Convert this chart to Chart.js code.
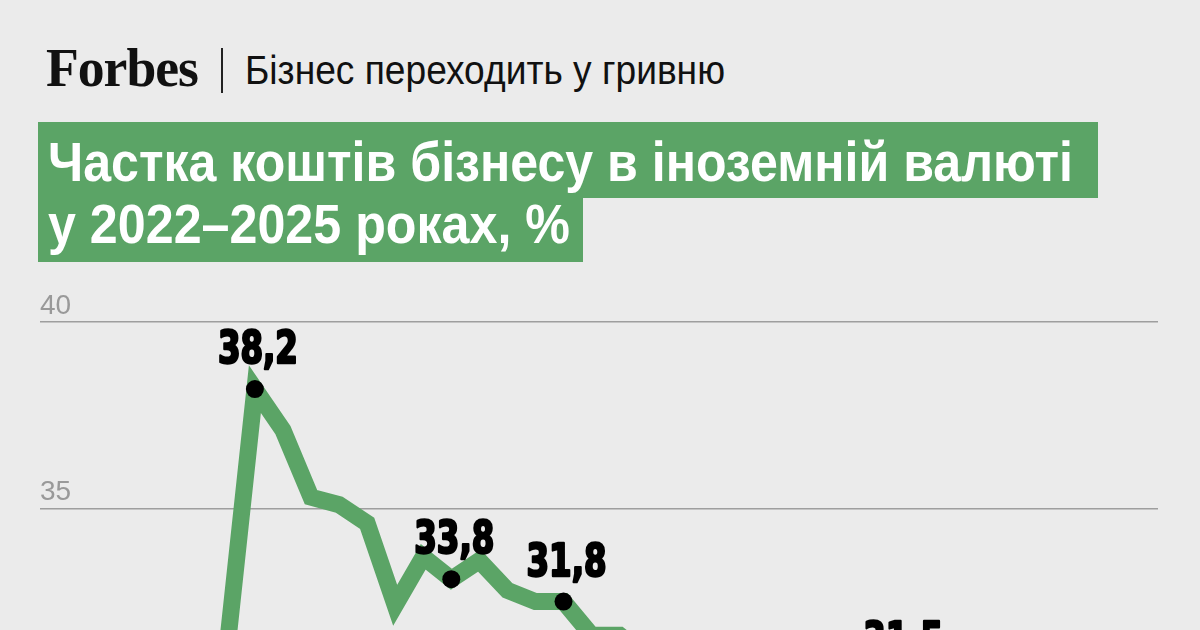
<!DOCTYPE html>
<html lang="uk">
<head>
<meta charset="utf-8">
<title>Частка коштів бізнесу в іноземній валюті</title>
<script src="https://cdn.jsdelivr.net/npm/chart.js@4.4.1/dist/chart.umd.min.js"></script>
<style>
  html, body { margin: 0; padding: 0; }
  body {
    width: 1200px; height: 630px; overflow: hidden; position: relative;
    background: #ebebeb;
  }
  .fit { position: absolute; white-space: nowrap; line-height: 1; transform-origin: 0 0; }
  .logo { left: 46px; top: 37px; font: bold 54px "Liberation Serif", serif; color: #111; letter-spacing: -1px; }
  .sep { position: absolute; left: 221px; top: 48px; width: 2px; height: 45px; background: #222; }
  .kicker { left: 245px; top: 47px; font: 41px "Liberation Sans Narrow", sans-serif; color: #111; }
  .box { position: absolute; background: #5ba466; }
  .title { font: bold 56px "Liberation Sans Narrow", sans-serif; color: #fff; }
  #chart-wrap { position: absolute; left: 0; top: 280px; width: 1200px; height: 618px; }
</style>
</head>
<body>
  <!-- Шапка -->
  <div class="fit logo" data-w="152">Forbes</div>
  <div class="sep"></div>
  <div class="fit kicker" data-w="480">Бізнес переходить у гривню</div>

  <div class="box" style="left:38px; top:122px; width:1060px; height:76px;"></div>
  <div class="box" style="left:38px; top:198px; width:545px; height:64px;"></div>
  <div class="fit title" style="left:48px; top:129px;" data-w="1025">Частка коштів бізнесу в іноземній валюті</div>
  <div class="fit title" style="left:48px; top:191px;" data-w="522">у 2022–2025 роках, %</div>

  <div id="chart-wrap"><canvas id="share-chart"></canvas></div>

<script>
// Місяці (січ 2022 – квіт 2025)
const months = [
  '01.2022', '02.2022', '03.2022', '04.2022', '05.2022', '06.2022', '07.2022', '08.2022',
  '09.2022', '10.2022', '11.2022', '12.2022', '01.2023', '02.2023', '03.2023', '04.2023',
  '05.2023', '06.2023', '07.2023', '08.2023', '09.2023', '10.2023', '11.2023', '12.2023',
  '01.2024', '02.2024', '03.2024', '04.2024', '05.2024', '06.2024', '07.2024', '08.2024',
  '09.2024', '10.2024', '11.2024', '12.2024', '01.2025', '02.2025', '03.2025', '04.2025'
];

// Частка коштів в іноземній валюті, %
const fxShare = [
  29.6, 30.0, 30.3, 29.9, 30.5, 30.8, 31.2, 38.2,
  37.1, 35.3, 35.1, 34.6, 32.4, 33.7, 33.1, 33.6,
  32.8, 32.5, 32.5, 31.6, 31.6, 31.0, 30.7, 30.5,
  30.3, 30.6, 30.2, 30.0, 30.3, 30.1, 30.4, 30.2,
  29.9, 29.7, 29.8, 29.5, 29.6, 29.3, 29.4, 29.2
];

// Точки з підписами
const markedIdx = [7, 14, 18, 30];
const markedText = ['38,2', '33,8', '31,8', '31,5'];

const yTicks = [25, 30, 35, 40];

// підганяємо ширину тексту шапки
document.querySelectorAll('.fit[data-w]').forEach(el => {
  const w = el.getBoundingClientRect().width;
  const target = parseFloat(el.dataset.w);
  if (w > 0) el.style.transform = `scaleX(${target / w})`;
});

const GREEN = '#5ba466';

const pointLabels = {
  id: 'pointLabels',
  afterDatasetsDraw(chart) {
    const { ctx } = chart;
    const meta = chart.getDatasetMeta(0);
    ctx.save();
    ctx.fillStyle = '#000';
    ctx.strokeStyle = '#000';
    ctx.lineWidth = 2.5;
    ctx.lineJoin = 'round';
    ctx.textAlign = 'center';
    ctx.textBaseline = 'alphabetic';
    ctx.font = 'bold 45px "DejaVu Sans Condensed", "DejaVu Sans", sans-serif';
    markedIdx.forEach((idx, i) => {
      const pt = meta.data[idx];
      if (!pt) return;
      ctx.strokeText(markedText[i], pt.x + 3, pt.y - 26, 80);
      ctx.fillText(markedText[i], pt.x + 3, pt.y - 26, 80);
    });
    ctx.restore();
  }
};

const ctx = document.getElementById('share-chart').getContext('2d');
new Chart(ctx, {
  type: 'line',
  data: {
    labels: months,
    datasets: [{
      label: 'Частка коштів в іноземній валюті, %',
      data: fxShare.map((v, i) => ({ x: i, y: v })),
      borderColor: GREEN,
      borderWidth: 17,
      borderJoinStyle: 'miter',
      tension: 0,
      fill: false,
      pointRadius: (c) => markedIdx.includes(c.dataIndex) ? 9 : 0,
      pointBackgroundColor: '#000',
      pointBorderWidth: 0,
      pointHoverRadius: 0
    }]
  },
  options: {
    responsive: true,
    maintainAspectRatio: false,
    animation: false,
    layout: { padding: { top: 42, left: 40, right: 42, bottom: 0 } },
    plugins: {
      legend: { display: false },
      tooltip: { enabled: false }
    },
    scales: {
      x: {
        type: 'linear',
        min: -0.66,
        max: 39.19,
        display: false
      },
      y: {
        min: 25,
        max: 40,
        afterBuildTicks: (axis) => { axis.ticks = yTicks.map(v => ({ value: v })); },
        border: { display: false },
        grid: { color: '#9e9e9e', lineWidth: 1.6, drawTicks: false },
        ticks: {
          mirror: true,
          padding: 0,
          labelOffset: -16,
          color: '#999',
          font: { family: '"Liberation Sans Narrow", sans-serif', size: 28 }
        }
      }
    }
  },
  plugins: [pointLabels]
});
</script>
</body>
</html>
